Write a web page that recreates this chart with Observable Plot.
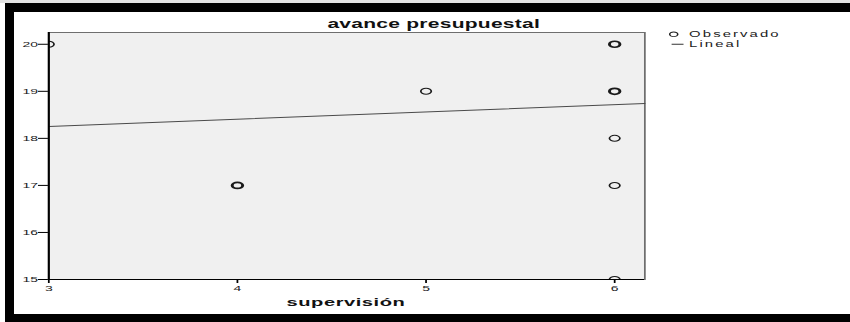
<!DOCTYPE html>
<html>
<head>
<meta charset="utf-8">
<script src="https://cdn.jsdelivr.net/npm/d3@7"></script>
<script src="https://cdn.jsdelivr.net/npm/@observablehq/plot@0.6"></script>
<style>
  html, body { margin: 0; padding: 0; background: #fff; }
  body { width: 850px; height: 322px; overflow: hidden; position: relative; font-family: Arial, "Liberation Sans", sans-serif; }
  #topstrip { position: absolute; left: 0; top: 0; width: 850px; height: 3px; background: #e2e2e2; }
  #border { position: absolute; left: 5px; top: 3px; width: 845px; height: 319px; box-sizing: border-box;
            border-top: 9px solid #000; border-left: 9px solid #000; border-bottom: 8px solid #000; }
  #wrap { position: absolute; left: 0; top: 0; width: 486px; height: 322px; transform: scaleX(1.749); transform-origin: 0 0; }
  #chart { position: absolute; left: 0; top: 0; }
  .t { position: absolute; white-space: nowrap; color: #111; }
  #title { left: 148px; width: 200px; top: 18px; text-align: center; font-size: 12px; line-height: 12px; font-weight: bold; letter-spacing: 0.15px; }
  #xlabel { left: 97.8px; width: 200px; top: 295.5px; text-align: center; font-size: 11.5px; line-height: 12px; font-weight: bold; letter-spacing: 0.3px; }
  .leg { left: 394px; font-size: 8.5px; line-height: 9px; letter-spacing: 1.2px; color: #222; }
  #legsym { position: absolute; left: 380px; top: 28px; }
</style>
</head>
<body>
<div id="topstrip"></div>
<div id="wrap">
  <div id="chart"></div>
  <div class="t" id="title"></div>
  <div class="t" id="xlabel"></div>
  <svg id="legsym" width="14" height="22"></svg>
  <div class="t leg" id="leg1" style="top:30px"></div>
  <div class="t leg" id="leg2" style="top:39.5px"></div>
</div>
<div id="border"></div>
<script>
// ---- data ----
const titleText = "avance presupuestal";
const xLabel = "supervisión";
const legendLabels = ["Observado", "Lineal"];

const obsX = [3, 4, 5, 6, 6, 6, 6, 6];
const obsY = [20, 17, 19, 20, 19, 18, 17, 15];
const obsCount = [1, 2, 1, 2, 2, 1, 1, 1];

const xTicks = [3, 4, 5, 6];
const yTicks = [15, 16, 17, 18, 19, 20];
const xDomain = [3, 6.16];
const yDomain = [15, 20.25];

// fitted linear regression
const regIntercept = 17.79;
const regSlope = 0.1545;

// ---- build ----
const obs = obsX.map((x, i) => ({x, y: obsY[i], n: obsCount[i]}));
const fit = xDomain.map(x => ({x, y: regIntercept + regSlope * x}));

const chart = Plot.plot({
  width: 486,
  height: 322,
  marginLeft: 27.4,
  marginRight: 117.8,
  marginTop: 32,
  marginBottom: 43,
  x: {domain: xDomain},
  y: {domain: yDomain},
  style: {fontFamily: "Arial, 'Liberation Sans', sans-serif", fontSize: "8px", color: "#111", background: "transparent", overflow: "visible"},
  marks: [
    Plot.frame({fill: "#f0f0f0", stroke: "#6e6e6e", strokeWidth: 1}),
    Plot.line(fit, {x: "x", y: "y", stroke: "#4a4a4a", strokeWidth: 1}),
    Plot.dot(obs, {x: "x", y: "y", r: 3, fill: "none", stroke: "#1a1a1a",
                   strokeWidth: d => d.n > 1 ? 1.7 : 1, clip: true}),
    Plot.ruleX([xDomain[0]], {stroke: "#000", strokeWidth: 1.2}),
    Plot.ruleY([yDomain[0]], {stroke: "#000", strokeWidth: 1.2}),
    Plot.axisY({ticks: yTicks, tickFormat: d3.format("d"), tickSize: 5.7, tickPadding: 0.5, label: null, stroke: "#000", fill: "#222"}),
    Plot.axisX({ticks: xTicks, tickFormat: d3.format("d"), tickSize: 4, tickPadding: 1.5, label: null, stroke: "#000", fill: "#222"})
  ]
});
document.getElementById("chart").appendChild(chart);

document.getElementById("title").textContent = titleText;
document.getElementById("xlabel").textContent = xLabel;
document.getElementById("leg1").textContent = legendLabels[0];
document.getElementById("leg2").textContent = legendLabels[1];

// legend symbols
const ls = d3.select("#legsym");
ls.append("circle").attr("cx", 5.2).attr("cy", 6.3).attr("r", 2.3)
  .attr("fill", "none").attr("stroke", "#222").attr("stroke-width", 0.9);
ls.append("line").attr("x1", 4).attr("x2", 10.8).attr("y1", 16.3).attr("y2", 16.3)
  .attr("stroke", "#333").attr("stroke-width", 1);
</script>
</body>
</html>
